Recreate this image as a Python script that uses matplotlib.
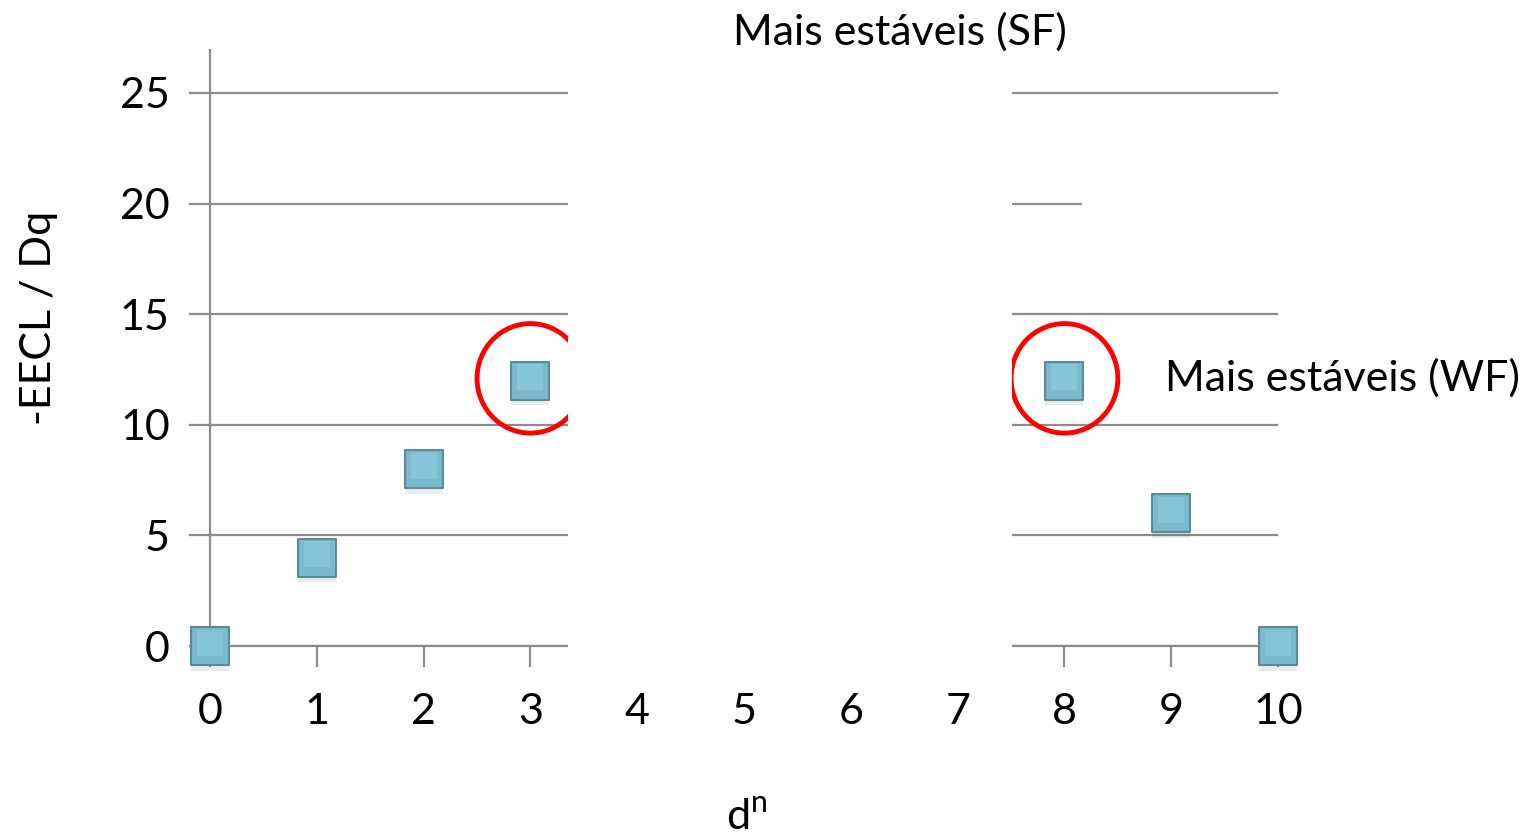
import numpy as np
import matplotlib
matplotlib.use('Agg')
import matplotlib.pyplot as plt
from matplotlib.patches import Rectangle, Ellipse

# data
d_n = [0, 1, 2, 3, 8, 9, 10]
eecl = [0, 4, 8, 12, 12, 6, 0]
circled = [3, 8]
circled_y = [12, 12]
x_ticks = list(range(0, 11))
y_ticks = [0, 5, 10, 15, 20, 25]

plt.rcParams['font.family'] = ['Lato', 'DejaVu Sans']

fig = plt.figure(figsize=(15.33, 8.35), dpi=100)
ax = fig.add_axes([0.137, 0.2263, 0.6967, 0.714])
ax.set_xlim(0, 10)
ax.set_ylim(0, 26.95)

grid_c = '#8c8c8c'
fs = 31
ax.set_yticks(y_ticks)
ax.set_xticks(x_ticks)
ax.yaxis.grid(True, color=grid_c, lw=1.6)
ax.set_axisbelow(True)
for s in ['top', 'right']:
    ax.spines[s].set_visible(False)
for s in ['left', 'bottom']:
    ax.spines[s].set_color(grid_c)
    ax.spines[s].set_linewidth(1.6)
ax.tick_params(axis='both', colors=grid_c, length=15, width=1.6,
               labelsize=fs, labelcolor='black')
ax.tick_params(axis='x', pad=19)
ax.tick_params(axis='y', pad=14)

# shadow, base square, lighter face
ax.scatter(d_n, np.array(eecl) - 0.25, s=38**2 * 0.52, marker='s',
           color='#000000', alpha=0.08, lw=0, zorder=4, clip_on=False)
ax.scatter(d_n, eecl, s=38**2 * 0.52, marker='s', color='#7bb9cc',
           edgecolors='#5d8a99', linewidths=1.5, zorder=5, clip_on=False)
ax.scatter(d_n, np.array(eecl) + 0.15, s=26**2 * 0.52, marker='s', color='#86c4d7',
           lw=0, zorder=6, clip_on=False)

# red circles around the most stable configurations
for cx, cy in zip(circled, circled_y):
    ax.add_patch(Ellipse((cx, cy + 0.1), 1.0, 4.95, fill=False, ec='#ff0000',
                         lw=3.5, zorder=7, clip_on=False))

# white boxes hiding part of the chart
ax.add_patch(Rectangle((3.35, -1.2), 4.16, 28.8, fc='white', ec='none',
                       zorder=10, clip_on=False))
ax.add_patch(Rectangle((8.16, 16.5), 2.2, 7.0, fc='white', ec='none',
                       zorder=10, clip_on=False))

ax.set_ylabel('-EECL / Dq', fontsize=fs)
ax.yaxis.set_label_coords(-0.142, 0.55)
fig.text(0.487, 0.021, 'd$^{\\mathregular{n}}$', fontsize=fs, ha='center', va='center')
fig.text(0.587, 0.962, 'Mais estáveis (SF)', fontsize=fs, ha='center', va='center')
fig.text(0.760, 0.547, 'Mais estáveis (WF)', fontsize=fs, ha='left', va='center')

fig.savefig('out.png', dpi=100)
